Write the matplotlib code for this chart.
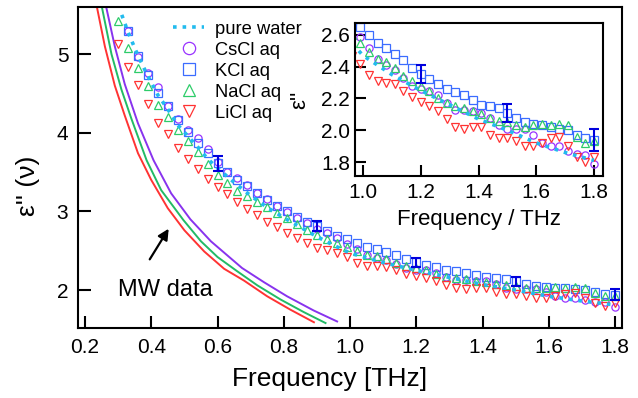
import numpy as np
import matplotlib
matplotlib.use("Agg")
from matplotlib import pyplot as plt

plt.rcParams['font.family'] = ['Liberation Sans', 'DejaVu Sans']

# marker frequencies (THz), 1 cm^-1 steps
freq = [0.30, 0.33, 0.36, 0.39, 0.42, 0.45, 0.48, 0.51, 0.54, 0.57,
        0.60, 0.63, 0.66, 0.69, 0.72, 0.75, 0.78, 0.81, 0.84, 0.87,
        0.90, 0.93, 0.96, 0.99, 1.02, 1.05, 1.08, 1.11, 1.14, 1.17,
        1.20, 1.23, 1.26, 1.29, 1.32, 1.35, 1.38, 1.41, 1.44, 1.47,
        1.50, 1.53, 1.56, 1.59, 1.62, 1.65, 1.68, 1.71, 1.74, 1.77, 1.80]

licl = [5.13, 4.84, 4.61, 4.36, 4.13, 3.98, 3.81, 3.67, 3.54, 3.41, 3.31, 3.22,
        3.12, 3.03, 2.95, 2.87, 2.80, 2.73, 2.66, 2.60, 2.54, 2.51, 2.47, 2.42,
        2.35, 2.31, 2.30, 2.29, 2.25, 2.21, 2.18, 2.15, 2.12, 2.07, 2.02, 2.01,
        2.02, 2.02, 1.97, 1.95, 1.95, 1.93, 1.90, 1.90, 1.92, 1.95, 1.96, 1.90,
        1.83, 1.80, 1.83]
nacl = [5.42, 5.08, 4.83, 4.59, 4.35, 4.20, 4.04, 3.89, 3.75, 3.60, 3.46, 3.36,
        3.26, 3.20, 3.12, 3.05, 2.98, 2.91, 2.84, 2.76, 2.70, 2.65, 2.60, 2.55,
        2.49, 2.45, 2.43, 2.39, 2.34, 2.31, 2.28, 2.25, 2.20, 2.17, 2.15, 2.14,
        2.12, 2.10, 2.08, 2.06, 2.05, 2.03, 2.02, 2.03, 2.04, 2.03, 2.04, 2.03,
        1.96, 1.92, 1.93]
# KCl and CsCl start one point later
kcl = [5.29, 4.98, 4.73, 4.50, 4.34, 4.16, 4.01, 3.87, 3.74, 3.61, 3.50, 3.40,
       3.32, 3.23, 3.15, 3.07, 3.00, 2.93, 2.86, 2.81, 2.75, 2.69, 2.65,
       2.60, 2.55, 2.52, 2.48, 2.44, 2.39, 2.355, 2.32, 2.29, 2.26, 2.24, 2.22,
       2.19, 2.16, 2.15, 2.14, 2.11, 2.08, 2.05, 2.04, 2.03, 2.02, 2.01, 2.00,
       1.97, 1.95, 1.94]
cscl = [5.30, 4.97, 4.76, 4.58, 4.34, 4.17, 4.03, 3.94, 3.79, 3.63, 3.50, 3.43,
        3.34, 3.23, 3.16, 3.07, 2.99, 2.92, 2.85, 2.78, 2.72, 2.66, 2.59,
        2.52, 2.45, 2.41, 2.38, 2.33, 2.28, 2.26, 2.25, 2.22, 2.17, 2.13, 2.13,
        2.12, 2.11, 2.08, 2.03, 2.01, 2.01, 2.01, 1.97, 1.92, 1.90, 1.90, 1.87,
        1.85, 1.845, 1.79]

water_f = [0.311, 0.33, 0.36, 0.39, 0.42, 0.45, 0.48, 0.51, 0.54, 0.57, 0.60,
           0.65, 0.70, 0.75, 0.80, 0.85, 0.90, 0.95, 1.00, 1.10, 1.20, 1.30,
           1.40, 1.50, 1.60, 1.70, 1.80]
water = [5.50, 5.28, 4.98, 4.72, 4.48, 4.30, 4.10, 3.96, 3.82, 3.67, 3.55,
         3.37, 3.20, 3.05, 2.92, 2.80, 2.68, 2.57, 2.47, 2.35, 2.25, 2.16,
         2.07, 2.00, 1.92, 1.86, 1.81]

# MW data curves
mw_li_f = [0.236, 0.26, 0.29, 0.32, 0.36, 0.40, 0.45, 0.50, 0.56, 0.62, 0.68, 0.75, 0.82, 0.891]
mw_li = [5.60, 5.10, 4.60, 4.22, 3.74, 3.40, 3.04, 2.76, 2.49, 2.27, 2.12, 1.92, 1.75, 1.59]
mw_na_f = [0.251, 0.28, 0.31, 0.34, 0.386, 0.43, 0.497, 0.55, 0.60, 0.659, 0.72, 0.79, 0.86, 0.926]
mw_na = [5.60, 5.00, 4.55, 4.18, 3.65, 3.27, 2.89, 2.62, 2.42, 2.24, 2.06, 1.88, 1.72, 1.58]
mw_cs_f = [0.264, 0.29, 0.32, 0.36, 0.407, 0.46, 0.518, 0.58, 0.674, 0.74, 0.81, 0.89, 0.961]
mw_cs = [5.60, 5.10, 4.62, 4.12, 3.65, 3.23, 2.90, 2.62, 2.28, 2.10, 1.92, 1.74, 1.60]

err_f = [0.60, 0.90, 1.20, 1.50, 1.80]
err_val = [3.61, 2.81, 2.355, 2.11, 1.94]
err_size = [0.09, 0.065, 0.057, 0.055, 0.07]

c_cs = '#9933ff'
c_k = '#3b6cff'
c_na = '#2ecc6a'
c_li = '#ff3333'
c_w = '#22bbee'
c_err = '#0000dd'

def draw_markers(ax, ms):
    hs = []
    hs.append(ax.plot(freq[1:], cscl, 'o', mfc='none', mec=c_cs, ms=ms, mew=0.9, label='CsCl aq')[0])
    hs.append(ax.plot(freq[1:], kcl, 's', mfc='none', mec=c_k, ms=ms, mew=0.9, label='KCl aq')[0])
    hs.append(ax.plot(freq, nacl, '^', mfc='none', mec=c_na, ms=ms, mew=0.9, label='NaCl aq')[0])
    hs.append(ax.plot(freq, licl, 'v', mfc='none', mec=c_li, ms=ms, mew=0.9, label='LiCl aq')[0])
    w = ax.plot(water_f, water, ':', color=c_w, lw=2.6, label='pure water')[0]
    ax.errorbar(err_f, err_val, yerr=err_size, fmt='none', ecolor=c_err,
                elinewidth=1.5, capsize=3.5, capthick=1.5, zorder=5)
    return [w] + hs

def style(ax):
    for s in ax.spines.values():
        s.set_linewidth(1.5)
    ax.tick_params(direction='in', length=9, width=1.5, labelsize=15, pad=7,
                   top=False, right=False)

fig = plt.figure(figsize=(6.38, 3.98), dpi=100)
ax = fig.add_axes([0.1223, 0.1759, 0.8527, 0.8065])

ax.plot(mw_li_f, mw_li, color=c_li, lw=1.4)
ax.plot(mw_na_f, mw_na, color='#22bb66', lw=1.4)
ax.plot(mw_cs_f, mw_cs, color='#8833ee', lw=1.4)
handles = draw_markers(ax, 5.2)

ax.set_xlim(0.179, 1.821)
ax.set_ylim(1.517, 5.60)
ax.set_xticks([0.2, 0.4, 0.6, 0.8, 1.0, 1.2, 1.4, 1.6, 1.8])
ax.set_xticklabels(['0.2', '0.4', '0.6', '0.8', '1.0', '1.2', '1.4', '1.6', '1.8'])
ax.set_yticks([2, 3, 4, 5])
style(ax)
ax.set_xlabel('Frequency [THz]', fontsize=19)
ax.xaxis.set_label_coords(0.463, -0.121)
ax.set_ylabel("ε'' (ν)", fontsize=19)
ax.yaxis.set_label_coords(-0.07, 0.442)

ax.annotate('', xy=(0.457, 2.81), xytext=(0.391, 2.36),
            arrowprops=dict(arrowstyle='-|>', color='black', lw=1.6, mutation_scale=16))
ax.text(0.30, 2.0, 'MW data', fontsize=17, va='center', ha='left')

ax.legend(handles=handles, loc='upper left', bbox_to_anchor=(0.158, 0.986),
          frameon=False, fontsize=13.2, borderpad=0, handlelength=1.7,
          handletextpad=0.6, labelspacing=0.22, markerscale=1.7)

# inset
axin = fig.add_axes([0.5564, 0.5578, 0.3887, 0.3844])
axin.set_facecolor('white')
draw_markers(axin, 5.2)
axin.set_xlim(0.972, 1.831)
axin.set_ylim(1.712, 2.675)
axin.set_xticks([1.0, 1.2, 1.4, 1.6, 1.8])
axin.set_yticks([1.8, 2.0, 2.2, 2.4, 2.6])
axin.set_yticklabels(['1.8', '2.0', '2.2', '2.4', '2.6'])
style(axin)
axin.tick_params(length=8)
axin.tick_params(axis='y', pad=3.5)
axin.tick_params(axis='x', pad=5)
axin.set_xlabel('Frequency / THz', fontsize=16)
axin.xaxis.set_label_coords(0.5, -0.216)
axin.set_ylabel("ε''", fontsize=16)
axin.yaxis.set_label_coords(-0.18, 0.5)

plt.savefig('out.png', dpi=100)
